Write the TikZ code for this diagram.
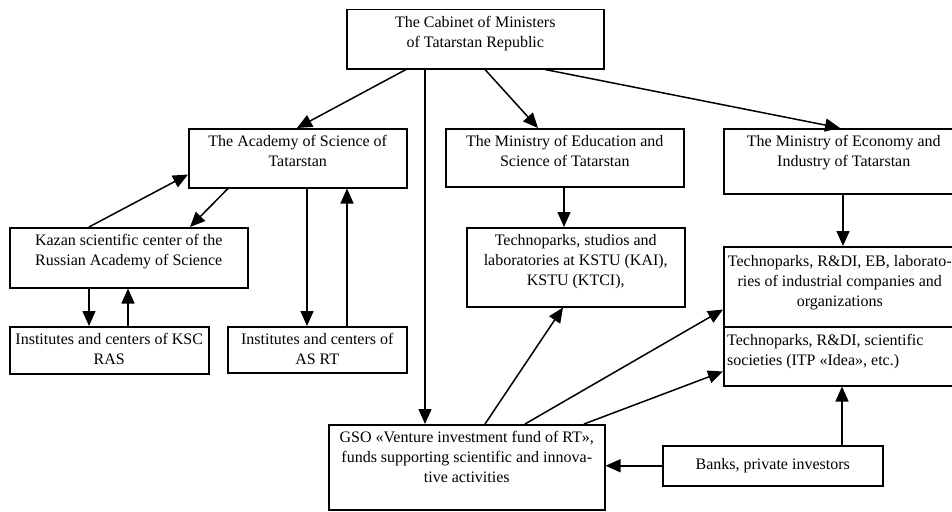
\documentclass[tikz,border=0pt]{standalone}
\usepackage{fontspec}
\setmainfont{Liberation Serif}
\usetikzlibrary{arrows.meta}
\begin{document}
\begin{tikzpicture}[x=1pt,y=-1pt,
 box/.style={draw, line width=1.5pt, anchor=north west, inner sep=0pt, rectangle},
 txt/.style={anchor=north, align=center, inner sep=0pt, font=\fontsize{16}{20}\selectfont},
 arr/.style={line width=1.5pt, -{Triangle[length=15pt,width=13pt]}}]
\useasboundingbox (0,0) rectangle (952,511);
\clip (0,0) rectangle (952,511);
% boxes
\node[box, minimum width=257pt, minimum height=59pt] (cab) at (346,9) {};
\node[box, minimum width=218pt, minimum height=59pt] (acad) at (188,128) {};
\node[box, minimum width=238pt, minimum height=58pt] (edu) at (445,128) {};
\node[box, minimum width=240pt, minimum height=65pt] (econ) at (723,128) {};
\node[box, minimum width=238pt, minimum height=60pt] (ksc) at (9,227) {};
\node[box, minimum width=218pt, minimum height=79pt] (tedu) at (466,227) {};
\node[box, minimum width=199pt, minimum height=47pt] (ik) at (9,326) {};
\node[box, minimum width=179pt, minimum height=46pt] (ias) at (227,326) {};
\node[box, minimum width=240pt, minimum height=80pt] (combU) at (723,246) {};
\node[box, minimum width=240pt, minimum height=59pt] (combL) at (723,326) {};
\node[box, minimum width=276pt, minimum height=85pt] (gso) at (328,424) {};
\node[box, minimum width=220pt, minimum height=40pt] (banks) at (662,445) {};
% texts
\node[txt] (cabT) at ([yshift=-7pt]cab.north) {The Cabinet of Ministers\\of Tatarstan Republic};
\node[txt] (acadT) at ([yshift=-7pt]acad.north) {The Academy of Science of\\Tatarstan};
\node[txt] (eduT) at ([yshift=-7pt]edu.north) {The Ministry of Education and\\Science of Tatarstan};
\node[txt] (econT) at ([yshift=-7pt]econ.north) {The Ministry of Economy and\\Industry of Tatarstan};
\node[txt] (kscT) at ([yshift=-7pt]ksc.north) {Kazan scientific center of the\\Russian Academy of Science};
\node[txt] (teduT) at ([yshift=-7pt]tedu.north) {Technoparks, studios and\\laboratories at KSTU (KAI),\\KSTU (KTCI),};
\node[txt] (ikT) at ([yshift=-7pt]ik.north) {Institutes and centers of KSC\\RAS};
\node[txt] (iasT) at ([yshift=-7pt]ias.north) {Institutes and centers of\\AS RT};
\node[txt] (combUT) at ([xshift=-4pt,yshift=-9pt]combU.north) {Technoparks, R\&DI, EB, laborato-\\ries of industrial companies and\\organizations};
\node[txt, anchor=north west, align=left] (combLT) at ([xshift=4pt,yshift=-8pt]combL.north west) {Technoparks, R\&DI, scientific\\societies (ITP «Idea», etc.)};
\node[txt] (gsoT) at ([yshift=-7pt]gso.north) {GSO «Venture investment fund of RT»,\\funds supporting scientific and innova-\\tive activities};
\node[txt, anchor=center] (banksT) at (banks.center) {Banks, private investors};
% connectors
\draw[arr] ([xshift=60pt]cab.south west) -- ([xshift=109pt]acad.north west);
\draw[arr] ([xshift=79pt]cab.south west) -- ([xshift=97pt]gso.north west);
\draw[arr] ([xshift=139pt]cab.south west) -- ([xshift=93pt]edu.north west);
\draw[arr] ([xshift=199pt]cab.south west) -- ([xshift=117pt]econ.north west);
\draw[arr] ([xshift=40pt]acad.south west) -- ([xshift=181pt]ksc.north west);
\draw[arr] ([xshift=80pt]ksc.north west) -- ([yshift=14pt]acad.south west);
\draw[arr] ([xshift=80pt]ksc.south west) -- ([xshift=80pt]ik.north west);
\draw[arr] ([xshift=119pt]ik.north west) -- ([xshift=119pt]ksc.south west);
\draw[arr] ([xshift=119pt]acad.south west) -- ([xshift=80pt]ias.north west);
\draw[arr] ([xshift=120pt]ias.north west) -- ([xshift=159pt]acad.south west);
\draw[arr] ([xshift=119pt]edu.south west) -- ([xshift=98pt]tedu.north west);
\draw[arr] ([xshift=120pt]econ.south west) -- ([xshift=120pt]combU.north west);
\draw[arr] ([xshift=157pt]gso.north west) -- ([xshift=97pt]tedu.south west);
\draw[arr] ([xshift=197pt]gso.north west) -- ([yshift=18pt]combU.south west);
\draw[arr] ([xshift=256pt]gso.north west) -- ([yshift=15pt]combL.south west);
\draw[arr] (banks.west) -- (banks.west -| gso.east);
\draw[arr] ([xshift=180pt]banks.north west) -- ([xshift=119pt]combL.south west);
\end{tikzpicture}
\end{document}
